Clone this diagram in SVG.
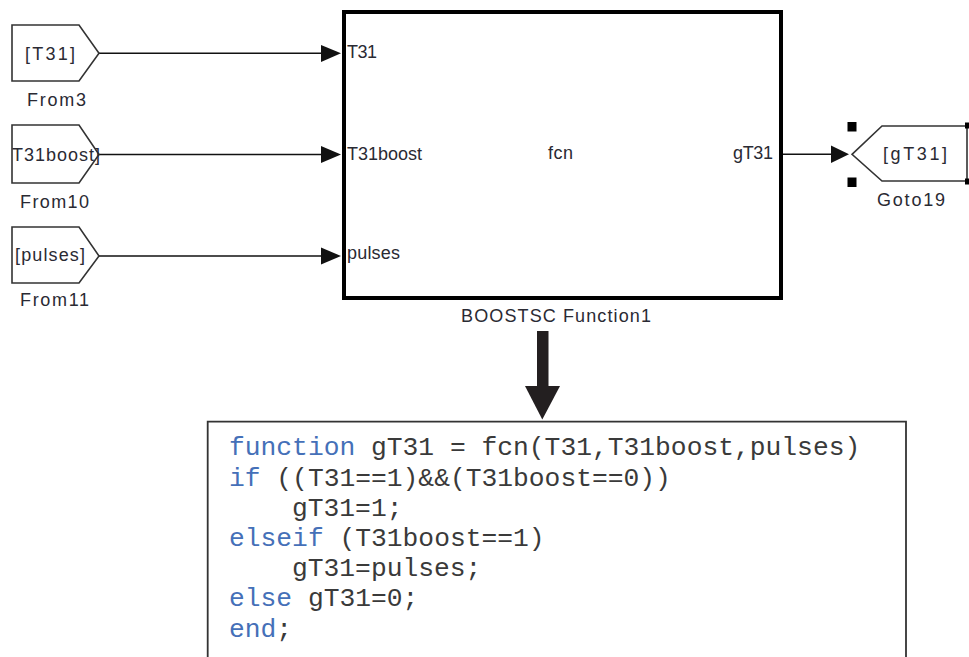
<svg xmlns="http://www.w3.org/2000/svg" width="969" height="657" viewBox="0 0 969 657">
<style>
.blk{fill:#fff;stroke:#333;stroke-width:1.6}
.lbl{font-family:"Liberation Sans",Arial,sans-serif;font-size:18px;fill:#2a2a33}
.wire{stroke:#111;stroke-width:1.6;fill:none}
.ah{fill:#111}
.code{font-family:"Liberation Mono","Courier New",monospace;font-size:26.3px;fill:#3a3a3a}
.kw{fill:#4570b8}
.hdl{fill:#000}
</style>
<rect width="969" height="657" fill="#fff"/>
<g id="connectors">
  <line class="wire" x1="99" y1="53.3" x2="324" y2="53.3"/>
  <polygon class="ah" points="321,45 341,53.3 321,62"/>
  <line class="wire" x1="99" y1="154.5" x2="324" y2="154.5"/>
  <polygon class="ah" points="321,146 341,154.5 321,163"/>
  <line class="wire" x1="99" y1="256" x2="324" y2="256"/>
  <polygon class="ah" points="321,247.5 341,256 321,264.5"/>
  <line class="wire" x1="781" y1="154.3" x2="834" y2="154.3"/>
  <polygon class="ah" points="831,145.5 849,154.3 831,163"/>
  <g id="bigArrow">
    <rect x="537" y="331" width="11.5" height="56" fill="#231f20"/>
    <polygon points="525,386 560,386 542.3,419.5" fill="#231f20"/>
  </g>
</g>
<g id="From3">
  <polygon class="blk" points="12,25 79,25 99,53.3 79,81 12,81"/>
  <text class="lbl" x="25" y="60" textLength="50" lengthAdjust="spacing">[T31]</text>
  <text class="lbl" x="27" y="106" textLength="59" lengthAdjust="spacing">From3</text>
</g>
<g id="From10">
  <polygon class="blk" points="12,125 79,125 99,154.5 79,183 12,183"/>
  <text class="lbl" x="12" y="161" textLength="88" lengthAdjust="spacing">T31boost]</text>
  <text class="lbl" x="20" y="208" textLength="69" lengthAdjust="spacing">From10</text>
</g>
<g id="From11">
  <polygon class="blk" points="12,227 79,227 99,256 79,283 12,283"/>
  <text class="lbl" x="15" y="261" textLength="70" lengthAdjust="spacing">[pulses]</text>
  <text class="lbl" x="20" y="306" textLength="69" lengthAdjust="spacing">From11</text>
</g>
<g id="BOOSTSC_Function1">
  <rect x="344" y="12" width="437" height="286" fill="#fff" stroke="#000" stroke-width="4"/>
  <text class="lbl" x="347" y="58.3" textLength="30" lengthAdjust="spacing">T31</text>
  <text class="lbl" x="347" y="159.5" textLength="75" lengthAdjust="spacing">T31boost</text>
  <text class="lbl" x="347" y="259" textLength="53" lengthAdjust="spacing">pulses</text>
  <text class="lbl" x="548" y="159" textLength="25" lengthAdjust="spacing">fcn</text>
  <text class="lbl" x="733" y="159" textLength="40" lengthAdjust="spacing">gT31</text>
  <text class="lbl" x="461" y="322" textLength="190" lengthAdjust="spacing">BOOSTSC Function1</text>
</g>
<g id="Goto19">
  <polygon class="blk" points="852,154.3 882,126 967,126 967,181 882,181"/>
  <rect class="hdl" x="847.5" y="122" width="9" height="9.5"/>
  <rect class="hdl" x="847.5" y="177.5" width="9" height="9.5"/>
  <rect class="hdl" x="965" y="122.5" width="6" height="6"/>
  <rect class="hdl" x="965" y="178.5" width="6" height="6"/>
  <text class="lbl" x="883" y="160" textLength="64" lengthAdjust="spacing">[gT31]</text>
  <text class="lbl" x="877" y="206" textLength="68" lengthAdjust="spacing">Goto19</text>
</g>
<g id="codeBox">
  <path d="M207.7,657 V421.7 H906 V657" fill="#fff" stroke="#333" stroke-width="1.8"/>
  <text class="code" x="229" y="455.3"><tspan class="kw">function</tspan> gT31 = fcn(T31,T31boost,pulses)</text>
  <text class="code" x="229" y="485.5"><tspan class="kw">if</tspan> ((T31==1)&amp;&amp;(T31boost==0))</text>
  <text class="code" x="292" y="515.7">gT31=1;</text>
  <text class="code" x="229" y="545.9"><tspan class="kw">elseif</tspan> (T31boost==1)</text>
  <text class="code" x="292" y="576.1">gT31=pulses;</text>
  <text class="code" x="229" y="606.3"><tspan class="kw">else</tspan> gT31=0;</text>
  <text class="code" x="229" y="636.5"><tspan class="kw">end</tspan>;</text>
</g>
</svg>
